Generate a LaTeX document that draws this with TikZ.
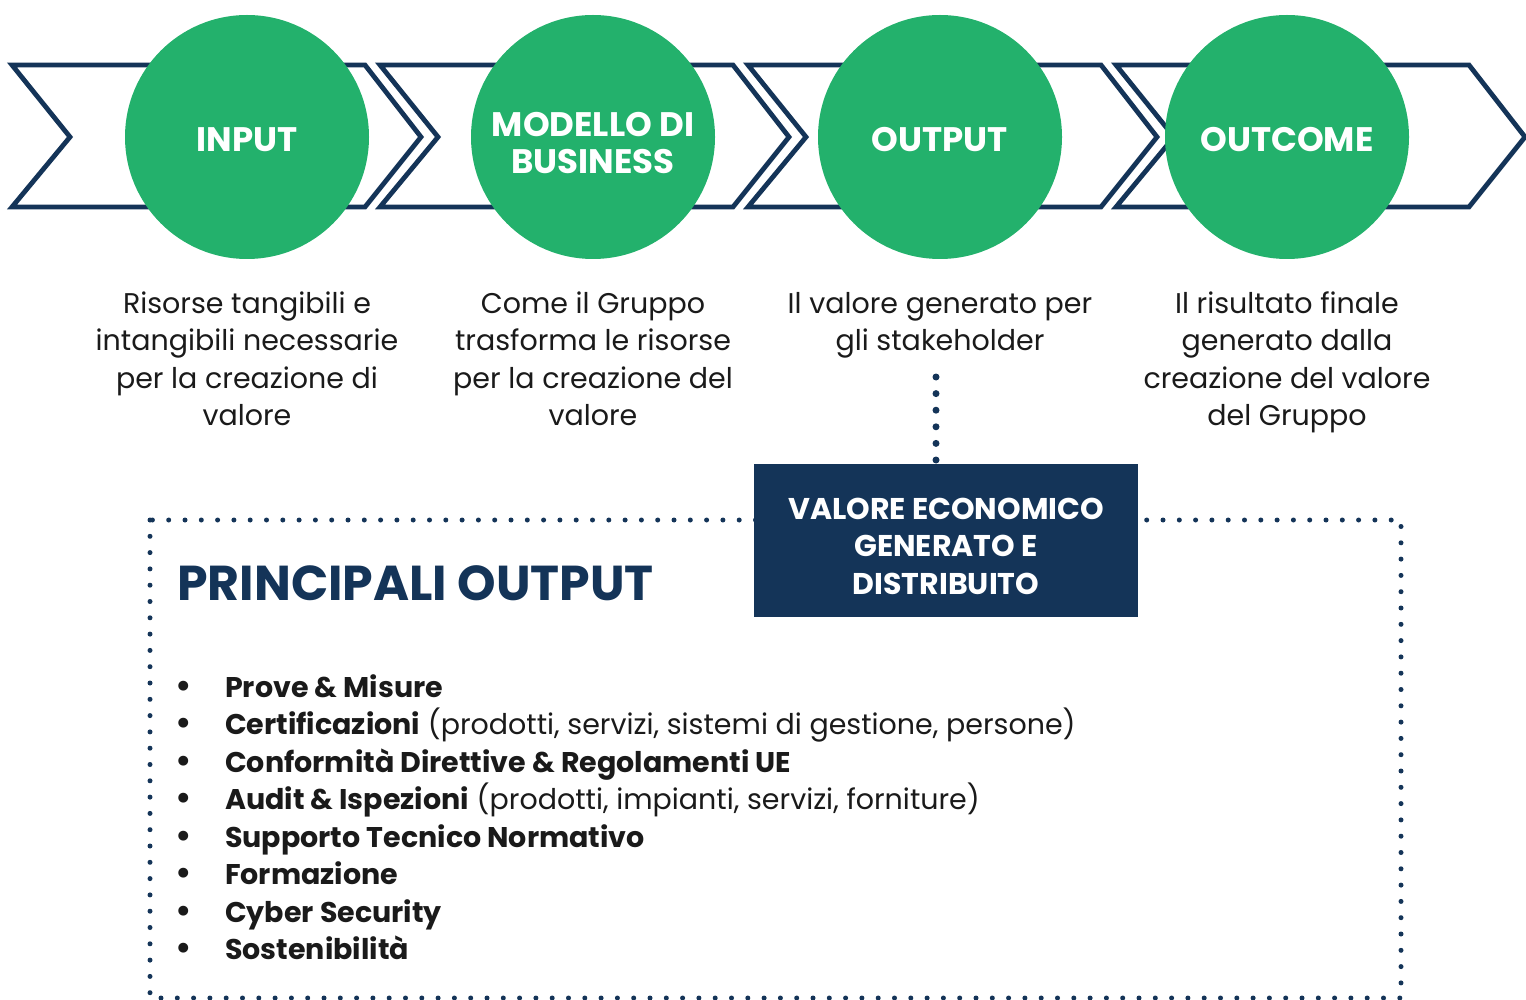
\documentclass[tikz,border=0pt]{standalone}
\usepackage{fontspec}
\setmainfont{Poppins}
\usepackage{tikz}
\usetikzlibrary{calc}
\definecolor{navy}{RGB}{20,52,88}
\definecolor{stepgreen}{RGB}{35,177,108}
\definecolor{textblack}{RGB}{26,26,26}
\newcommand{\pixelsize}{1pt}
\newcommand{\makechevron}[1]{
	\draw[chevronline] (#1,65) -- ++(353,0) -- ++(56,72) -- ++(-56,70) -- ++(-353,0) -- ++(58,-70) -- cycle;
}

\begin{document}
\begin{tikzpicture}[x=\pixelsize,y=-\pixelsize,
	chevronline/.style={navy, line width=4.8pt, line join=miter},
	stepcircle/.style={circle, fill=stepgreen, minimum size=244pt, inner sep=0pt},
	steptext/.style={text=white, align=center, inner sep=0pt, font=\fontsize{34}{37.5}\selectfont\bfseries},
	desctext/.style={anchor=base, align=center, inner sep=0pt, text=textblack, font=\fontsize{28.5}{37.5}\selectfont},
	dotline/.style={navy, line width=7pt, line cap=round, dash pattern=on 0pt off 16.6pt},
	dotframe/.style={navy, line width=5pt, line cap=round, dash pattern=on 0pt off 16.3pt},
	vegbox/.style={fill=navy, minimum width=384pt, minimum height=153pt},
	vegtext/.style={anchor=base, text=white, align=center, inner sep=0pt, font=\fontsize{30}{37.5}\selectfont\bfseries},
	itemtext/.style={anchor=base west, inner sep=0pt, text=textblack, font=\fontsize{28.5}{37.5}\selectfont},
	itemdot/.style={anchor=base, inner sep=0pt, text=textblack, font=\fontsize{40}{37.5}\selectfont}]
	\useasboundingbox (0,0) rectangle (1526,1000);

	\foreach \xs in {12,380,748,1116} {\makechevron{\xs}}

	\node[stepcircle] (input) at (247,137) {};
	\node[stepcircle] (business) at (593,137) {};
	\node[stepcircle] (output) at (940,137) {};
	\node[stepcircle] (outcome) at (1287,137) {};
	\node[steptext] (inputname) at ([yshift=-3pt]input) {INPUT};
	\node[steptext] (businessname) at ([yshift=-6pt]business) {MODELLO DI\\BUSINESS};
	\node[steptext] (outputname) at ([yshift=-3pt]output) {OUTPUT};
	\node[steptext] (outcomename) at ([yshift=-3pt]outcome) {OUTCOME};

	\node[desctext] (desc1) at (247,425.5) {Risorse tangibili e\\intangibili necessarie\\per la creazione di\\valore};
	\node[desctext] (desc2) at (593,425.5) {Come il Gruppo\\trasforma le risorse\\per la creazione del\\valore};
	\node[desctext] (desc3) at (940,350.5) {Il valore generato per\\gli stakeholder};
	\node[desctext] (desc4) at (1287,425.5) {Il risultato finale\\generato dalla\\creazione del valore\\del Gruppo};

	\draw[dotframe] (150,520) rectangle (1401,998);
	\node[vegbox] (veg) at (946,540.5) {};
	\node[vegtext] (vegname) at (946,594) {VALORE ECONOMICO\\GENERATO E\\DISTRIBUITO};
	\coordinate (dotstart) at (936,377);
	\draw[dotline] (dotstart) -- (veg.north -| dotstart);

	\node[anchor=base west, inner sep=0pt, text=navy, font=\fontsize{49}{50}\selectfont\bfseries] (heading) at (177,600) {PRINCIPALI OUTPUT};

	\foreach \entry [count=\k from 0] in {
		{\textbf{Prove \& Misure}},
		{\textbf{Certificazioni} (prodotti, servizi, sistemi di gestione, persone)},
		{\textbf{Conformità Direttive \& Regolamenti UE}},
		{\textbf{Audit \& Ispezioni} (prodotti, impianti, servizi, forniture)},
		{\textbf{Supporto Tecnico Normativo}},
		{\textbf{Formazione}},
		{\textbf{Cyber Security}},
		{\textbf{Sostenibilità}}}
	{
		\node[itemdot] (dot\k) at (184,699+37.5*\k) {\textbullet};
		\node[itemtext] (item\k) at (225,697+37.5*\k) {\entry};
	}
\end{tikzpicture}
\end{document}
